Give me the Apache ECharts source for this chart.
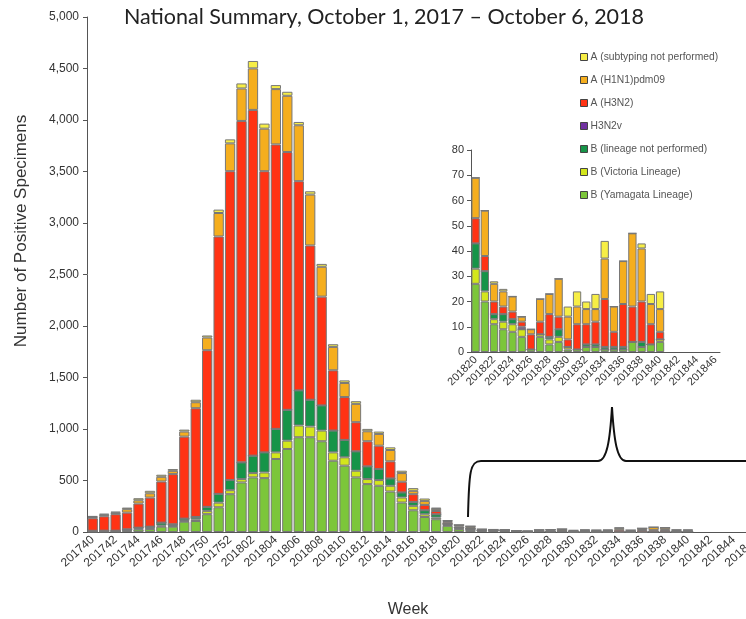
<!DOCTYPE html>
<html>
<head>
<meta charset="utf-8">
<script src="https://cdn.jsdelivr.net/npm/echarts@6/dist/echarts.min.js"></script>
<style>
  html, body { margin: 0; padding: 0; background: #fff; }
  #chart { width: 746px; height: 619px; }
</style>
</head>
<body>
<div id="chart"></div>
<script>
// week labels 201740 .. 201852
var weeks = [];
for (var w = 40; w <= 52; w++) weeks.push("2017" + w);
for (var w = 1; w <= 52; w++) weeks.push("2018" + (w < 10 ? "0" + w : w));

// weekly counts, 201740 .. 201840
var yamagata = [4, 5, 5, 14, 25, 28, 52, 52, 100, 107, 173, 240, 367, 481, 530, 523, 709, 806, 920, 920,
  881, 692, 644, 530, 465, 449, 393, 286, 211, 146, 124, 60,
  27, 20, 11, 9, 8, 6, 1, 6, 3, 4, 1, 1, 2, 2, 1, 1, 1, 4, 2, 3, 4];
var victoria = [2, 2, 2, 4, 7, 8, 10, 6, 7, 16, 32, 45, 39, 33, 42, 55, 64, 81, 114, 104,
  104, 81, 81, 65, 49, 55, 56, 49, 43, 26, 16, 8,
  6, 4, 2, 3, 3, 3, 0, 1, 2, 2, 1, 0, 0, 0, 0, 0, 0, 0, 0, 0, 1];
var bNotPerformed = [6, 6, 6, 8, 10, 16, 29, 17, 23, 23, 39, 85, 98, 162, 169, 195, 228, 299, 341, 260,
  244, 212, 169, 188, 123, 107, 71, 49, 38, 39, 32, 10,
  10, 8, 2, 3, 2, 0, 0, 0, 1, 3, 0, 0, 1, 1, 1, 1, 1, 0, 2, 0, 0];
var h3n2v = [0, 0, 0, 0, 0, 0, 0, 0, 0, 0, 0, 0, 0, 0, 0, 0, 0, 0, 0, 0,
  0, 0, 0, 0, 0, 0, 0, 0, 0, 0, 0, 0,
  0, 0, 0, 0, 0, 1, 0, 0, 0, 0, 0, 0, 0, 0, 0, 0, 0, 0, 0, 0, 0];
var h3n2 = [122, 140, 160, 162, 234, 282, 399, 487, 796, 1056, 1521, 2499, 2999, 3315, 3357, 2730, 2762, 2503, 2031, 1498,
  1056, 585, 416, 283, 244, 227, 166, 104, 75, 52, 32, 18,
  10, 6, 5, 3, 3, 2, 6, 5, 9, 5, 3, 10, 8, 9, 19, 6, 17, 14, 16, 8, 3];
var h1n1 = [12, 14, 14, 34, 32, 42, 46, 32, 49, 58, 123, 228, 270, 315, 403, 413, 537, 546, 543, 494,
  290, 227, 137, 178, 97, 114, 110, 84, 33, 39, 20, 12,
  16, 18, 7, 6, 6, 2, 2, 9, 8, 15, 9, 7, 6, 5, 16, 10, 17, 29, 21, 8, 9];
var aNotPerformed = [10, 11, 11, 15, 20, 24, 20, 17, 19, 24, 20, 33, 39, 49, 72, 49, 39, 39, 32, 32,
  28, 26, 25, 26, 23, 23, 26, 23, 26, 23, 13, 6,
  0, 0, 1, 1, 0, 0, 0, 0, 0, 0, 4, 6, 3, 6, 7, 0, 0, 0, 2, 4, 7];

// inset covers 201820 .. 201846
var insetStart = weeks.indexOf("201820");
var insetWeeks = weeks.slice(insetStart, weeks.indexOf("201846") + 1);

var names = ["B (Yamagata Lineage)", "B (Victoria Lineage)", "B (lineage not performed)", "H3N2v",
  "A (H3N2)", "A (H1N1)pdm09", "A (subtyping not performed)"];
var colors = ["#7cc63a", "#d3e61c", "#169448", "#7030a0", "#ff3314", "#f5ae1e", "#f7ee45"];
var values = [yamagata, victoria, bNotPerformed, h3n2v, h3n2, h1n1, aNotPerformed];

var font = "Liberation Sans, Arial, sans-serif";
var series = [];
values.forEach(function (v, i) {
  var style = { color: colors[i], borderColor: "#777", borderWidth: 1 };
  series.push({
    name: names[i], type: "bar", stack: "main", data: v,
    barCategoryGap: "10%", itemStyle: style, xAxisIndex: 0, yAxisIndex: 0
  });
  series.push({
    name: names[i], type: "bar", stack: "inset", data: v.slice(insetStart),
    barCategoryGap: "10%", itemStyle: style, xAxisIndex: 1, yAxisIndex: 1
  });
});

// curly brace linking the tail of the season to the inset
var brace = { stroke: "#111", lineWidth: 2, fill: null };

var chart = echarts.init(document.getElementById("chart"));
chart.setOption({
  animation: false,
  title: {
    text: "National Summary, October 1, 2017 \u2013 October 6, 2018",
    left: 379, top: 1, textAlign: "center",
    textStyle: { fontFamily: "Lato", fontWeight: "normal", fontSize: 21.5, color: "#222" }
  },
  legend: {
    orient: "vertical", left: 575, top: 46,
    data: names.slice().reverse(),
    icon: "rect", itemWidth: 7, itemHeight: 7, itemGap: 11,
    itemStyle: { borderColor: "#444", borderWidth: 1 },
    textStyle: { fontFamily: font, fontSize: 10.3, color: "#555", lineHeight: 12, padding: [0, 0, 0, -2] }
  },
  grid: [
    { left: 87, top: 17, bottom: 87, width: 744, outerBoundsMode: "none" },
    { left: 471, top: 150, width: 249, height: 202, outerBoundsMode: "none" }
  ],
  xAxis: [
    {
      type: "category", data: weeks, gridIndex: 0,
      axisLine: { lineStyle: { color: "#555" } },
      axisTick: { interval: 0, length: 4, lineStyle: { color: "#555" } },
      axisLabel: { interval: 1, rotate: 42, fontFamily: font, fontSize: 12, color: "#333", margin: 6 }
    },
    {
      type: "category", data: insetWeeks, gridIndex: 1,
      axisLine: { lineStyle: { color: "#555" } },
      axisTick: { interval: 1, length: 4, lineStyle: { color: "#555" } },
      axisLabel: { interval: 1, rotate: 45, fontFamily: font, fontSize: 11, color: "#333", margin: 6 }
    }
  ],
  yAxis: [
    {
      type: "value", gridIndex: 0, min: 0, max: 5000, interval: 500,
      splitLine: { show: false },
      axisLine: { show: true, lineStyle: { color: "#555" } },
      axisTick: { show: true, length: 4, lineStyle: { color: "#555" } },
      axisLabel: {
        fontFamily: font, fontSize: 12, color: "#333", margin: 8,
        formatter: function (v) { return v.toLocaleString("en-US"); }
      }
    },
    {
      type: "value", gridIndex: 1, min: 0, max: 80, interval: 10,
      splitLine: { show: false },
      axisLine: { show: true, lineStyle: { color: "#555" } },
      axisTick: { show: true, length: 4, lineStyle: { color: "#555" } },
      axisLabel: { fontFamily: font, fontSize: 11, color: "#333", margin: 7 }
    }
  ],
  graphic: [
    {
      type: "text", x: 21, y: 231, rotation: Math.PI / 2,
      style: { text: "Number of Positive Specimens", fontFamily: font, fontSize: 17, fill: "#333",
        textAlign: "center", textVerticalAlign: "middle" }
    },
    {
      type: "text", x: 408, y: 610,
      style: { text: "Week", fontFamily: font, fontSize: 16, fill: "#333",
        textAlign: "center", textVerticalAlign: "middle" }
    },
    { type: "bezierCurve", shape: { x1: 468, y1: 517, cpx1: 469, cpy1: 472, cpx2: 470, cpy2: 461, x2: 481, y2: 461 }, style: brace },
    { type: "line", shape: { x1: 481, y1: 461, x2: 598, y2: 461 }, style: brace },
    { type: "bezierCurve", shape: { x1: 598, y1: 461, cpx1: 607, cpy1: 461, cpx2: 610, cpy2: 440, x2: 612, y2: 407 }, style: brace },
    { type: "bezierCurve", shape: { x1: 612, y1: 407, cpx1: 614, cpy1: 440, cpx2: 617, cpy2: 461, x2: 626, y2: 461 }, style: brace },
    { type: "line", shape: { x1: 626, y1: 461, x2: 746, y2: 461 }, style: brace }
  ],
  series: series
});
</script>
</body>
</html>
